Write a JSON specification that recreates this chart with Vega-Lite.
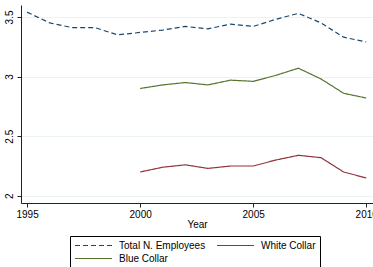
{
  "$schema": "https://vega.github.io/schema/vega-lite/v6.json",
  "width": 352,
  "height": 198,
  "autosize": {"type": "none"},
  "padding": {"left": 21, "top": 5, "right": 0, "bottom": 64},
  "background": "white",
  "config": {"view": {"stroke": null}, "font": "Liberation Sans"},
  "data": {
    "values": [
      {"year": 1995, "series": "Total N. Employees", "value": 3.54},
      {"year": 1996, "series": "Total N. Employees", "value": 3.45},
      {"year": 1997, "series": "Total N. Employees", "value": 3.41},
      {"year": 1998, "series": "Total N. Employees", "value": 3.41},
      {"year": 1999, "series": "Total N. Employees", "value": 3.35},
      {"year": 2000, "series": "Total N. Employees", "value": 3.37},
      {"year": 2001, "series": "Total N. Employees", "value": 3.39},
      {"year": 2002, "series": "Total N. Employees", "value": 3.42},
      {"year": 2003, "series": "Total N. Employees", "value": 3.40},
      {"year": 2004, "series": "Total N. Employees", "value": 3.44},
      {"year": 2005, "series": "Total N. Employees", "value": 3.42},
      {"year": 2006, "series": "Total N. Employees", "value": 3.48},
      {"year": 2007, "series": "Total N. Employees", "value": 3.53},
      {"year": 2008, "series": "Total N. Employees", "value": 3.45},
      {"year": 2009, "series": "Total N. Employees", "value": 3.33},
      {"year": 2010, "series": "Total N. Employees", "value": 3.29},
      {"year": 2000, "series": "Blue Collar", "value": 2.90},
      {"year": 2001, "series": "Blue Collar", "value": 2.93},
      {"year": 2002, "series": "Blue Collar", "value": 2.95},
      {"year": 2003, "series": "Blue Collar", "value": 2.93},
      {"year": 2004, "series": "Blue Collar", "value": 2.97},
      {"year": 2005, "series": "Blue Collar", "value": 2.96},
      {"year": 2006, "series": "Blue Collar", "value": 3.01},
      {"year": 2007, "series": "Blue Collar", "value": 3.07},
      {"year": 2008, "series": "Blue Collar", "value": 2.98},
      {"year": 2009, "series": "Blue Collar", "value": 2.86},
      {"year": 2010, "series": "Blue Collar", "value": 2.82},
      {"year": 2000, "series": "White Collar", "value": 2.20},
      {"year": 2001, "series": "White Collar", "value": 2.24},
      {"year": 2002, "series": "White Collar", "value": 2.26},
      {"year": 2003, "series": "White Collar", "value": 2.23},
      {"year": 2004, "series": "White Collar", "value": 2.25},
      {"year": 2005, "series": "White Collar", "value": 2.25},
      {"year": 2006, "series": "White Collar", "value": 2.30},
      {"year": 2007, "series": "White Collar", "value": 2.34},
      {"year": 2008, "series": "White Collar", "value": 2.32},
      {"year": 2009, "series": "White Collar", "value": 2.20},
      {"year": 2010, "series": "White Collar", "value": 2.15}
    ]
  },
  "mark": {"type": "line", "strokeWidth": 1.2, "clip": false},
  "encoding": {
    "x": {
      "field": "year", "type": "quantitative",
      "scale": {"domain": [1994.73, 2010.3], "nice": false, "zero": false},
      "axis": {
        "values": [1995, 2000, 2005, 2010], "format": "d", "title": "Year",
        "grid": false, "domainColor": "#222", "tickColor": "#222",
        "labelFontSize": 10, "titleFontSize": 10, "titleFontWeight": "normal",
        "labelColor": "#000", "titleColor": "#000", "tickSize": 4,
        "labelPadding": 2, "titlePadding": 0, "labelFlush": false, "labelOverlap": false
      }
    },
    "y": {
      "field": "value", "type": "quantitative",
      "scale": {"domain": [1.94, 3.6], "nice": false, "zero": false},
      "axis": {
        "values": [2, 2.5, 3, 3.5], "format": "~g", "title": null,
        "grid": true, "gridColor": "#eaf2f3", "gridWidth": 1,
        "domainColor": "#222", "tickColor": "#222", "tickSize": 4,
        "labelAngle": -90, "labelFontSize": 10, "labelColor": "#000",
        "labelPadding": 3, "labelOverlap": false
      }
    },
    "color": {
      "field": "series", "type": "nominal",
      "scale": {
        "domain": ["Total N. Employees", "Blue Collar", "White Collar"],
        "range": ["#1a476f", "#55752f", "#90353b"]
      },
      "legend": {
        "orient": "none", "legendX": 49, "legendY": 231, "columns": 2,
        "title": null, "strokeColor": "#000", "padding": 4,
        "symbolType": "M-1,0H1", "symbolSize": 1369, "symbolStrokeWidth": 1.2,
        "labelFontSize": 10, "labelColor": "#000", "labelOffset": 6,
        "rowPadding": 2, "columnPadding": 10, "clipHeight": 11
      }
    },
    "strokeDash": {
      "field": "series", "type": "nominal",
      "scale": {
        "domain": ["Total N. Employees", "Blue Collar", "White Collar"],
        "range": [[5, 3], [1, 0], [1, 0]]
      },
      "legend": {
        "orient": "none", "legendX": 49, "legendY": 231, "columns": 2,
        "title": null, "strokeColor": "#000", "padding": 4,
        "symbolType": "M-1,0H1", "symbolSize": 1369, "symbolStrokeWidth": 1.2,
        "labelFontSize": 10, "labelColor": "#000", "labelOffset": 6,
        "rowPadding": 2, "columnPadding": 10, "clipHeight": 11
      }
    }
  }
}
